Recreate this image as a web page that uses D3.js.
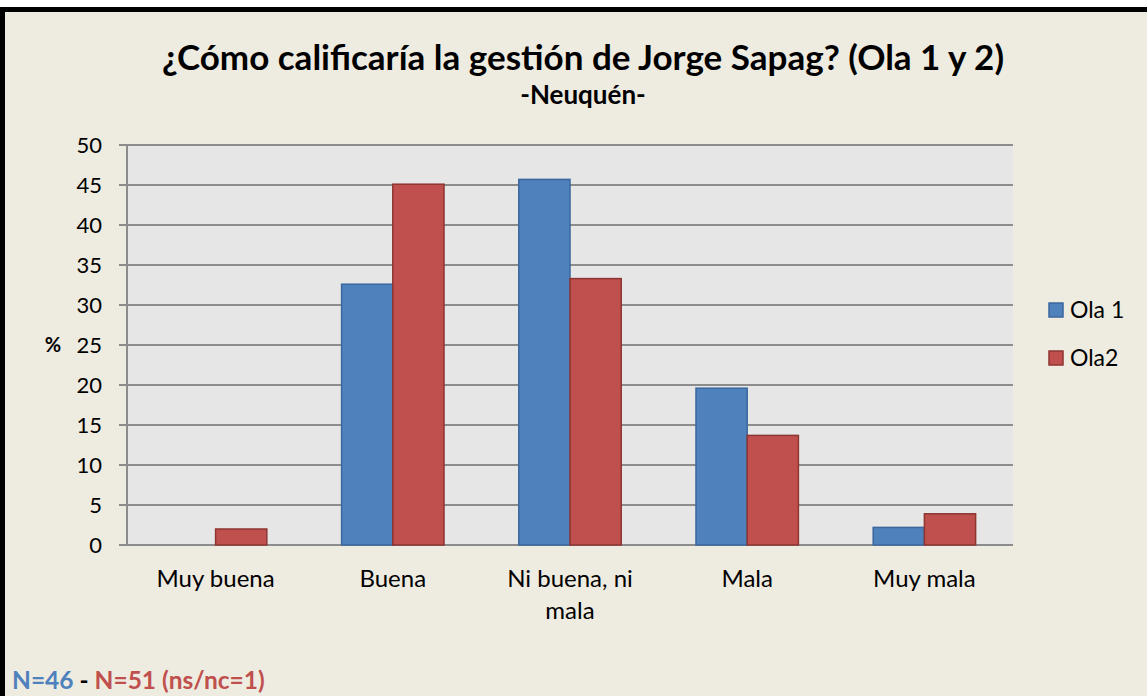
<!DOCTYPE html>
<html><head><meta charset="utf-8">
<script src="https://cdn.jsdelivr.net/npm/d3@7"></script>
<style>body{margin:0;background:#fff}svg{display:block}text{font-family:Lato,"Open Sans",sans-serif}</style>
</head><body>
<script>
const categories = ["Muy buena", "Buena", "Ni buena, ni mala", "Mala", "Muy mala"];
const seriesNames = ["Ola 1", "Ola2"];
const ola1 = [0, 32.6, 45.7, 19.6, 2.2];
const ola2 = [2.0, 45.1, 33.3, 13.7, 3.9];
const yTicks = [0, 5, 10, 15, 20, 25, 30, 35, 40, 45, 50];
const colors = ["#4F81BD", "#C0504D"];
const strokes = ["#3A679E", "#8E3532"];

(function () {
const W = 1147, H = 696;
const svg = d3.select("body").append("svg").attr("width", W).attr("height", H);
svg.append("rect").attr("x", 2.5).attr("y", 9.5).attr("width", W + 10).attr("height", H + 10)
  .attr("fill", "#EEEBE0").attr("stroke", "#000").attr("stroke-width", 5);

const pL = 127, pR = 1013, pT = 145, pB = 545;
const x = d3.scaleBand().domain(categories).range([pL, pR]).paddingInner(0.422).paddingOuter(0.211);
const xs = d3.scaleBand().domain(seriesNames).range([0, x.bandwidth()]);
const y = d3.scaleLinear().domain([0, 50]).range([pB, pT]);

svg.append("rect").attr("x", pL).attr("y", pT).attr("width", pR - pL).attr("height", pB - pT).attr("fill", "#E6E6E6");

svg.append("g").selectAll("line").data(yTicks).join("line")
  .attr("x1", pL - 8).attr("x2", pR).attr("y1", d => y(d)).attr("y2", d => y(d))
  .attr("stroke", "#8C8C8C").attr("stroke-width", 2);
svg.append("line").attr("x1", pL).attr("x2", pL).attr("y1", pT).attr("y2", pB)
  .attr("stroke", "#8C8C8C").attr("stroke-width", 2);

const yAxis = d3.axisLeft(y).tickValues(yTicks).tickSize(0).tickPadding(0);
const ga = svg.append("g").attr("transform", `translate(${pL - 25},0)`).call(yAxis);
ga.select(".domain").remove();
ga.selectAll("text").attr("font-size", 22).attr("fill", "#000").style("font-family", "Lato, 'Open Sans', sans-serif");

svg.append("text").attr("x", 53).attr("y", y(25)).attr("dy", "0.35em").attr("text-anchor", "middle")
  .attr("font-size", 20).attr("font-weight", "bold").text("%");

const data = [ola1, ola2];
data.forEach((vals, si) => {
  svg.append("g").selectAll("rect").data(vals.map((v, i) => ({v, c: categories[i]})).filter(d => d.v > 0)).join("rect")
    .attr("x", d => x(d.c) + xs(seriesNames[si]))
    .attr("y", d => y(d.v))
    .attr("width", xs.bandwidth())
    .attr("height", d => y(0) - y(d.v))
    .attr("fill", colors[si]).attr("stroke", strokes[si]).attr("stroke-width", 1.5);
});

const xlabels = {"Ni buena, ni mala": ["Ni buena, ni", "mala"]};
categories.forEach(c => {
  const lines = xlabels[c] || [c];
  const cx = x(c) + x.bandwidth() / 2;
  const t = svg.append("text").attr("x", cx).attr("y", 587).attr("text-anchor", "middle").attr("font-size", 24);
  lines.forEach((l, i) => t.append("tspan").attr("x", cx).attr("dy", i ? 32 : 0).text(l));
});

svg.append("text").attr("x", 583).attr("y", 70).attr("text-anchor", "middle")
  .attr("font-size", 35).attr("font-weight", "bold").text("¿Cómo calificaría la gestión de Jorge Sapag? (Ola 1 y 2)");
svg.append("text").attr("x", 583).attr("y", 104).attr("text-anchor", "middle")
  .attr("font-size", 26).attr("font-weight", "bold").text("-Neuquén-");

seriesNames.forEach((s, i) => {
  const ly = 310 + i * 48;
  svg.append("rect").attr("x", 1049).attr("y", ly - 7).attr("width", 14).attr("height", 14)
    .attr("fill", colors[i]).attr("stroke", strokes[i]).attr("stroke-width", 1.5);
  svg.append("text").attr("x", 1070).attr("y", ly).attr("dy", "0.35em").attr("font-size", 23).text(s);
});

const f = svg.append("text").attr("x", 12).attr("y", 689).attr("font-size", 24.5).attr("font-weight", "bold");
f.append("tspan").attr("fill", "#4F81BD").text("N=46");
f.append("tspan").attr("fill", "#000").text(" - ");
f.append("tspan").attr("fill", "#C0504D").text("N=51 (ns/nc=1)");
})();
</script>
</body></html>
